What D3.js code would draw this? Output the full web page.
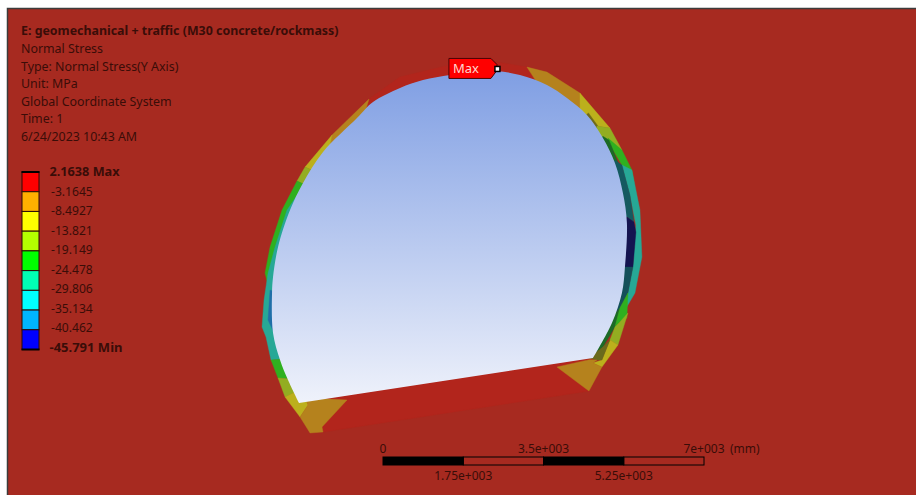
<!DOCTYPE html>
<html><head><meta charset="utf-8">
<script src="https://cdnjs.cloudflare.com/ajax/libs/d3/7.8.5/d3.min.js"></script>
<style>html,body{margin:0;padding:0;background:#fff}svg{display:block}text{font-family:"Noto Sans",sans-serif}</style>
</head><body><svg id="c" width="916" height="495"></svg>
<script>
// Annotation block
const titleLine = "E: geomechanical + traffic (M30 concrete/rockmass)";
const infoLines = ["Normal Stress","Type: Normal Stress(Y Axis)","Unit: MPa","Global Coordinate System","Time: 1","6/24/2023 10:43 AM"];
// Legend
const legendValues = ["2.1638 Max","-3.1645","-8.4927","-13.821","-19.149","-24.478","-29.806","-35.134","-40.462","-45.791 Min"];
const legendColors = ["#ff0000","#ffb000","#ffff00","#b4ff00","#00ff00","#00ffb4","#00ffff","#00b4ff","#0000ff"];
// Scale bar (mm)
const barTicksTop = [0,3500,7000];
const barTicksBottom = [1750,5250];
const barTickLabels = {0:"0",1750:"1.75e+003",3500:"3.5e+003",5250:"5.25e+003",7000:"7e+003"};
// Tunnel geometry, in model mm
const opening = [[-1831,-65],[-2071,436],[-2245,872],[-2398,1461],[-2420,2333],[-2398,2681],[-2289,3335],[-2027,4142],[-1744,4731],[-1308,5406],[-567,6148],[-218,6496],[371,6802],[872,6976],[1461,7085],[1962,7172],[2485,7172],[2987,7085],[3575,6867],[4011,6584],[4447,6213],[4796,5712],[5058,5167],[5232,4513],[5319,3859],[5276,2899],[5210,2333],[4992,1679],[4578,916]];
const floorSlab = [[-1831,-65],[4578,916],[4491,196],[-1308,-698]];
const crownBand = [[-305,6562],[371,7041],[1461,7303],[1962,7368],[2485,7368],[3139,7259],[3575,6867],[2987,6900],[2485,7000],[1962,7000],[1461,6900],[872,6800],[371,6600],[-218,6300],[-460,6040]];
const leftOrange = [[-305,6562],[-1112,5777],[-1200,5300],[-460,6040]];
const leftYellow = [[-1112,5777],[-1700,5079],[-1400,4950],[-1200,5300]];
const leftYellowGreen = [[-1700,5079],[-1875,4774],[-1600,4650],[-1400,4950]];
const leftGreen = [[-1875,4774],[-2202,4142],[-2463,3335],[-2572,2769],[-2507,2500],[-2200,3300],[-1900,4100],[-1600,4650]];
const leftTeal = [[-1850,4500],[-2093,4142],[-2354,3335],[-2507,2769],[-2594,2180],[-2638,1591],[-2551,1373],[-2442,872],[-2100,900],[-2250,1500],[-2270,2333],[-2250,2650],[-2150,3300],[-1900,4100]];
const leftBlue = [[-2463,2398],[-2507,1744],[-2354,1417],[-2300,1744],[-2300,2333]];
const leftGreenLow = [[-2442,872],[-2289,480],[-1950,450],[-2100,900]];
const leftYGLow = [[-2289,480],[-2136,65],[-1850,200],[-1950,450]];
const leftYellowLow = [[-2136,65],[-1809,-371],[-1635,-109],[-1700,50],[-1850,200]];
const leftTriangle = [[-1700,50],[-785,0],[-1330,-589],[-1308,-698],[-1591,-719],[-1809,-371],[-1635,-109]];
const rightOrange = [[3139,7259],[3575,7150],[4295,6693],[4447,6213],[4300,6100],[3900,6450],[3500,6700]];
const rightYellow = [[4295,6693],[4949,5930],[4665,5974],[4447,6213],[4300,6100]];
const rightYG = [[4665,5974],[4949,5930],[5210,5450],[4992,5540],[4650,5600]];
const rightGreen = [[4905,5712],[5210,5450],[5428,5014],[5472,4730],[5210,5123],[4992,5490]];
const rightOliveTop = [[4480,6260],[4850,5750],[4650,5600],[4300,6100]];
const rightDark = [[4796,5750],[4927,5668],[5166,5080],[4900,5100],[4650,5600]];
const rightTeal = [[5210,5123],[5428,5014],[5603,4142],[5646,3117],[5494,2333],[5276,1962],[5341,2333],[5450,2899],[5515,3815],[5385,4469]];
const rightDarkTeal = [[5058,5230],[5210,5123],[5385,4469],[5472,3880],[5319,3989],[5180,3989],[5100,4500],[4900,5100]];
const rightNavy = [[5319,3989],[5472,3880],[5515,3662],[5450,2899],[5150,2899],[5180,3859]];
const rightDarkTealLow = [[5150,2899],[5450,2899],[5341,2333],[5166,2005],[4880,1650],[5080,2300]];
const rightDarkGreen = [[4880,1650],[5166,2005],[5058,1591],[4796,1155],[4500,916]];
const rightGreenLow = [[5166,2005],[5341,2333],[5319,1788],[5166,1700],[5058,1591]];
const rightYGLow = [[5341,1897],[5123,1199],[4949,1308],[5058,1591],[5166,1700]];
const rightYellowLow = [[5123,1199],[4774,719],[4578,807],[4774,872],[4949,1308]];
const rightOlive = [[4500,916],[4796,1155],[4949,1308],[4774,872],[4665,872]];
const rightTriangle = [[3793,719],[4500,880],[4665,872],[4578,807],[4774,719],[4491,196]];

const svg = d3.select("#c");
const W=916,H=495;
const x = d3.scaleLinear().domain([0,7000]).range([383,704]);
const y = d3.scaleLinear().domain([0,7000]).range([400,79]);
const lg = d3.line().x(d=>x(d[0])).y(d=>y(d[1])).curve(d3.curveLinear);
const lgSmooth = d3.line().x(d=>x(d[0])).y(d=>y(d[1])).curve(d3.curveCatmullRom.alpha(0.5));
const poly = d=>lg(d)+"Z";

const ink="#3a0d08";
svg.append("rect").attr("x",7).attr("y",8).attr("width",W-7).attr("height",H-8).attr("fill","#a72a20");
svg.append("path").attr("d",`M${W} 8.5H7.5V${H}`).attr("fill","none").attr("stroke","#3c3c3c").attr("stroke-width",1.5);

const defs=svg.append("defs");
const g=defs.append("linearGradient").attr("id","sky").attr("x1",0).attr("y1",0).attr("x2",0).attr("y2",1);
g.append("stop").attr("offset",0).attr("stop-color","#7f9ee3");
g.append("stop").attr("offset",1).attr("stop-color","#eff2fb");

const parts=[
 [floorSlab,"#b2251c"],[crownBand,"#b2251c"],
 [leftOrange,"#b5821d"],[leftYellow,"#bcb01c"],[leftYellowGreen,"#93ad21"],[leftGreen,"#2fb01f"],[leftTeal,"#27a896"],[leftBlue,"#1f6fa8"],
 [leftGreenLow,"#2fb01f"],[leftYGLow,"#93ad21"],[leftYellowLow,"#bcb01c"],[leftTriangle,"#b5821d"],
 [rightOrange,"#b5821d"],[rightYellow,"#bcb01c"],[rightOliveTop,"#6f6a1c"],[rightYG,"#93ad21"],[rightGreen,"#2fb01f"],[rightTeal,"#27a896"],[rightDark,"#1c6a26"],[rightDarkTeal,"#145a60"],[rightNavy,"#141450"],
 [rightDarkTealLow,"#14505a"],[rightDarkGreen,"#1c6a26"],[rightGreenLow,"#2fb01f"],[rightYGLow,"#93ad21"],[rightYellowLow,"#bcb01c"],[rightOlive,"#6a6a1c"],[rightTriangle,"#b5821d"]
];
svg.append("g").selectAll("path").data(parts).join("path").attr("d",d=>poly(d[0])).attr("fill",d=>d[1]).attr("stroke",d=>d[1]).attr("stroke-width",0.4);
svg.append("path").attr("d",lgSmooth(opening)+"Z").attr("fill","url(#sky)");

// Text block
const tb=svg.append("g").attr("fill",ink).style("font-size","12.4px");
tb.append("text").attr("x",21).attr("y",35).attr("font-weight",700).text(titleLine);
tb.selectAll("text.i").data(infoLines).join("text").attr("class","i").attr("x",21).attr("y",(d,i)=>53+i*17.6).text(d=>d);

// Legend
const ly=d3.scaleBand().domain(legendColors).range([172,349.5]);
svg.append("g").selectAll("rect").data(legendColors).join("rect").attr("x",22).attr("width",17).attr("y",d=>ly(d)).attr("height",ly.bandwidth()).attr("fill",d=>d).attr("stroke","#2a0a06").attr("stroke-width",1);
svg.append("g").selectAll("line").data([172,349.5]).join("line").attr("x1",21.5).attr("x2",39.5).attr("y1",d=>d).attr("y2",d=>d).attr("stroke","#000").attr("stroke-width",2);
const lt=d3.scalePoint().domain(legendValues).range([176,352]);
svg.append("g").attr("fill",ink).selectAll("text").data(legendValues).join("text")
 .attr("x",(d,i)=>(i==0||i==9)?49.5:51).attr("y",d=>lt(d)).attr("font-weight",(d,i)=>(i==0||i==9)?700:400)
 .style("font-size",(d,i)=>i==0?"12.7px":i==9?"13px":"12.1px").text(d=>d);

// Max label
const mx=x(2310), my=y(7230);
svg.append("path").attr("d",d3.line()([[mx-40,my-10],[mx+2,my-10],[mx+8,my-4],[mx+8,my+2],[mx+2,my+10],[mx-40,my+10]])+"Z").attr("fill","#ff0000").attr("stroke","#4a0505");
svg.append("rect").attr("x",mx+6).attr("y",my-2).attr("width",5).attr("height",5).attr("fill","#fff").attr("stroke","#000").attr("stroke-width",1.5);
svg.append("text").attr("x",mx-36).attr("y",my+5).attr("fill","#ffd6d0").style("font-size","13px").text("Max");

// Scale bar
const by=457,bh=8;
const segs=d3.pairs([0,1750,3500,5250,7000]);
svg.append("g").selectAll("rect").data(segs).join("rect").attr("x",d=>x(d[0])).attr("y",by).attr("width",d=>x(d[1])-x(d[0])).attr("height",bh)
 .attr("fill",(d,i)=>i%2?"none":"#000").attr("stroke","#000");
const bt=svg.append("g").attr("fill",ink).style("font-size","12px").attr("text-anchor","middle");
bt.selectAll("text.t").data(barTicksTop).join("text").attr("class","t").attr("x",d=>x(d)).attr("y",453).text(d=>barTickLabels[d]);
bt.selectAll("text.b").data(barTicksBottom).join("text").attr("class","b").attr("x",d=>x(d)).attr("y",480).text(d=>barTickLabels[d]);
svg.append("text").attr("x",730).attr("y",453).attr("fill",ink).style("font-size","12px").text("(mm)");
</script></body></html>
